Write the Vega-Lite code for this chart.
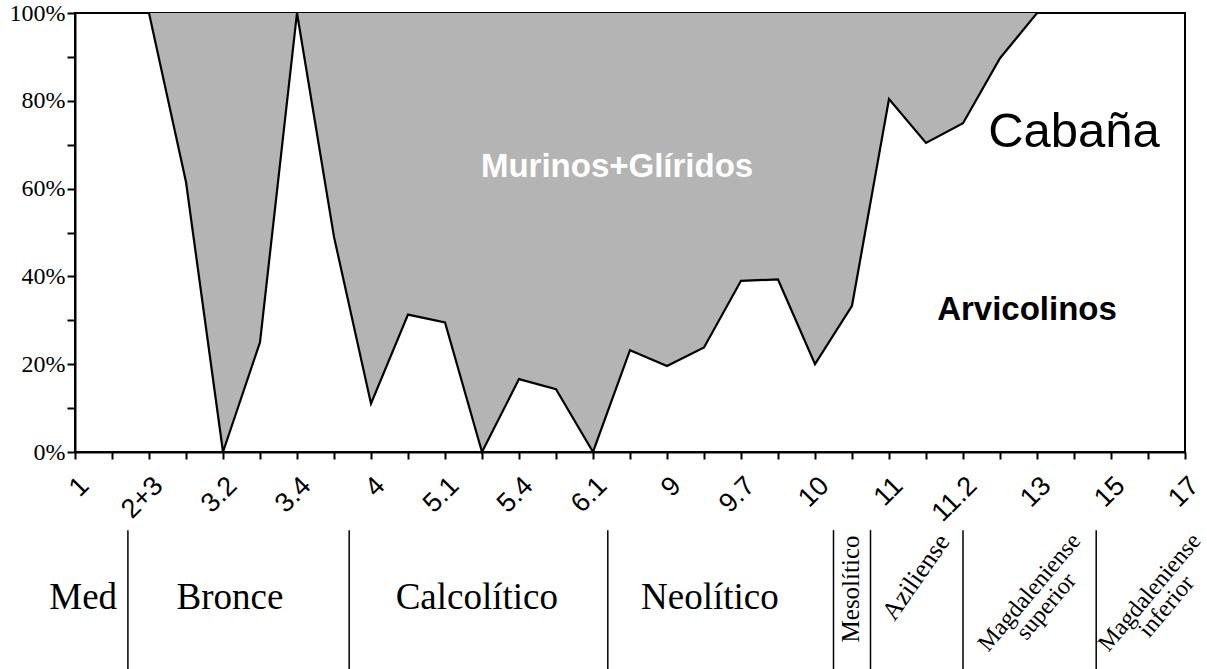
{
  "$schema": "https://vega.github.io/schema/vega-lite/v6.json",
  "width": 1110,
  "height": 439,
  "autosize": {"type": "none"},
  "padding": {"left": 75, "top": 13, "right": 22, "bottom": 217},
  "background": "white",
  "config": {
    "view": {"stroke": "#000", "strokeWidth": 2},
    "axis": {"grid": false, "domainColor": "#000", "domainWidth": 2, "tickColor": "#000", "tickWidth": 2, "labelColor": "#000", "title": null}
  },
  "datasets": {
    "series": [
      {"x": 0, "y": 100}, {"x": 1, "y": 100}, {"x": 2, "y": 100}, {"x": 3, "y": 61.5},
      {"x": 4, "y": 0}, {"x": 5, "y": 25}, {"x": 6, "y": 100}, {"x": 7, "y": 49},
      {"x": 8, "y": 11}, {"x": 9, "y": 31.3}, {"x": 10, "y": 29.5}, {"x": 11, "y": 0},
      {"x": 12, "y": 16.6}, {"x": 13, "y": 14.3}, {"x": 14, "y": 0}, {"x": 15, "y": 23.2},
      {"x": 16, "y": 19.6}, {"x": 17, "y": 23.8}, {"x": 18, "y": 39}, {"x": 19, "y": 39.3},
      {"x": 20, "y": 20}, {"x": 21, "y": 33.3}, {"x": 22, "y": 80.4}, {"x": 23, "y": 70.4},
      {"x": 24, "y": 74.9}, {"x": 25, "y": 89.7}, {"x": 26, "y": 100}, {"x": 27, "y": 100},
      {"x": 28, "y": 100}, {"x": 29, "y": 100}, {"x": 30, "y": 100}
    ],
    "separators": [
      {"x": 1.43, "y": -17.8, "y2": -50}, {"x": 7.41, "y": -17.8, "y2": -50},
      {"x": 14.4, "y": -17.8, "y2": -50}, {"x": 20.5, "y": -17.8, "y2": -50},
      {"x": 21.5, "y": -17.8, "y2": -50}, {"x": 24.0, "y": -17.8, "y2": -50},
      {"x": 27.6, "y": -17.8, "y2": -50}
    ]
  },
  "encoding": {
    "x": {
      "field": "x", "type": "quantitative",
      "scale": {"domain": [0, 30], "nice": false, "zero": false},
      "axis": {
        "values": [0,1,2,3,4,5,6,7,8,9,10,11,12,13,14,15,16,17,18,19,20,21,22,23,24,25,26,27,28,29,30],
        "labelExpr": "datum.value % 2 == 0 ? ['1','2+3','3.2','3.4','4','5.1','5.4','6.1','9','9.7','10','11','11.2','13','15','17'][datum.value / 2] : ''",
        "labelFont": "Liberation Sans", "labelFontSize": 27,
        "labelAngle": -45, "labelAlign": "right", "labelBaseline": "top",
        "labelPadding": 13, "tickSize": 7,
        "labelFlush": false, "labelOverlap": false, "labelBound": false
      }
    },
    "y": {
      "field": "y", "type": "quantitative",
      "scale": {"domain": [0, 100], "nice": false, "zero": false},
      "axis": {
        "values": [0,10,20,30,40,50,60,70,80,90,100],
        "labelExpr": "datum.value % 20 == 0 ? datum.value + '%' : ''",
        "labelFont": "Liberation Serif", "labelFontSize": 24,
        "tickSize": 8, "labelPadding": 2,
        "labelFlush": false, "labelOverlap": false, "labelBound": false
      }
    }
  },
  "layer": [
    {
      "data": {"name": "series"},
      "mark": {"type": "area", "color": "#b4b4b4", "interpolate": "linear"},
      "encoding": {"y2": {"datum": 100}}
    },
    {
      "data": {"name": "series"},
      "mark": {"type": "line", "color": "#000", "strokeWidth": 2.2},
      "encoding": {}
    },
    {
      "data": {"name": "separators"},
      "mark": {"type": "rule", "color": "#000", "strokeWidth": 1.5},
      "encoding": {"y2": {"field": "y2"}}
    },
    {
      "data": {"values": [{"label": "Murinos+Glíridos", "x": 14.65, "y": 62.6}]},
      "mark": {"type": "text", "font": "Liberation Sans", "fontSize": 33, "fontWeight": "bold", "color": "#fff", "align": "center", "baseline": "alphabetic"},
      "encoding": {"text": {"field": "label"}}
    },
    {
      "data": {"values": [{"label": "Cabaña", "x": 27.0, "y": 69.5}]},
      "mark": {"type": "text", "font": "Liberation Sans", "fontSize": 49, "color": "#000", "align": "center", "baseline": "alphabetic"},
      "encoding": {"text": {"field": "label"}}
    },
    {
      "data": {"values": [{"label": "Arvicolinos", "x": 25.73, "y": 30.1}]},
      "mark": {"type": "text", "font": "Liberation Sans", "fontSize": 33, "fontWeight": "bold", "color": "#000", "align": "center", "baseline": "alphabetic"},
      "encoding": {"text": {"field": "label"}}
    },
    {
      "data": {"values": [
        {"label": "Med", "x": 0.22, "y": -33.3},
        {"label": "Bronce", "x": 4.19, "y": -33.3},
        {"label": "Calcolítico", "x": 10.86, "y": -33.3},
        {"label": "Neolítico", "x": 17.16, "y": -33.3}
      ]},
      "mark": {"type": "text", "font": "Liberation Serif", "fontSize": 37, "color": "#000", "align": "center", "baseline": "middle"},
      "encoding": {"text": {"field": "label"}}
    },
    {
      "data": {"values": [{"label": "Mesolítico", "x": 20.97, "y": -31.2}]},
      "mark": {"type": "text", "font": "Liberation Serif", "fontSize": 25, "color": "#000", "align": "center", "baseline": "middle", "angle": 270},
      "encoding": {"text": {"field": "label"}}
    },
    {
      "data": {"values": [{"label": "Aziliense", "x": 22.73, "y": -28.5}]},
      "mark": {"type": "text", "font": "Liberation Serif", "fontSize": 26, "color": "#000", "align": "center", "baseline": "middle", "angle": 305},
      "encoding": {"text": {"field": "label"}}
    },
    {
      "data": {"values": [
        {"label": "Magdaleniense\nsuperior", "x": 25.8, "y": -32.0},
        {"label": "Magdaleniense\ninferior", "x": 29.05, "y": -32.0}
      ]},
      "mark": {"type": "text", "font": "Liberation Serif", "fontSize": 24, "color": "#000", "align": "center", "baseline": "middle", "angle": 310, "lineBreak": "\n", "lineHeight": 22},
      "encoding": {"text": {"field": "label"}}
    }
  ]
}
